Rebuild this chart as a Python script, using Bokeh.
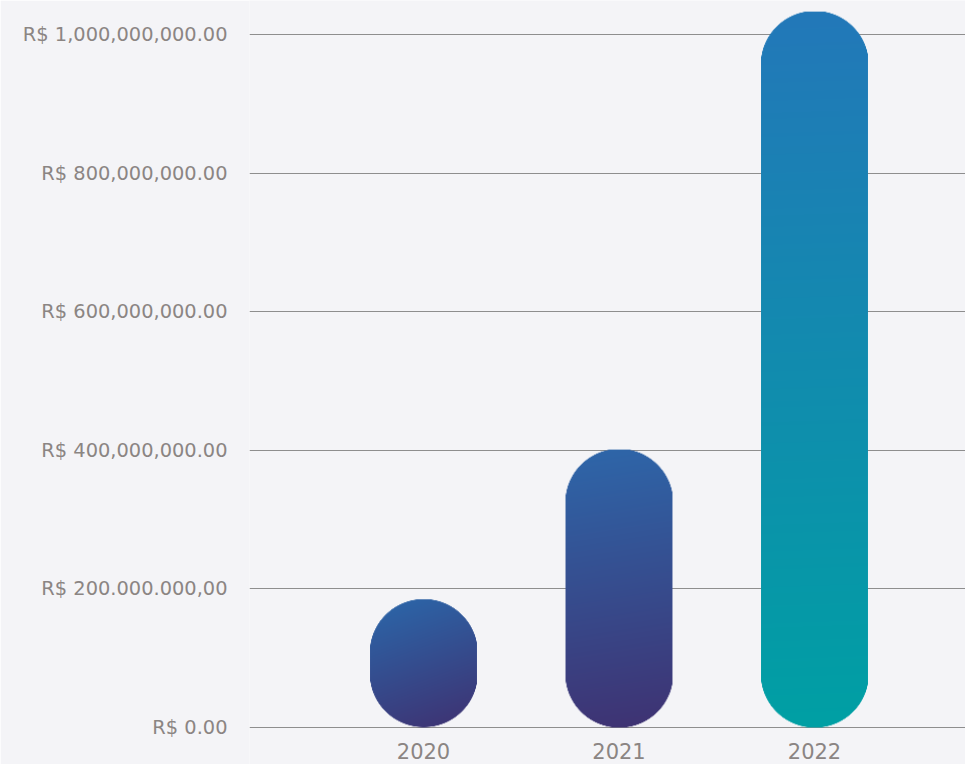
import numpy as np
from bokeh.plotting import figure
from bokeh.models import Range1d, FixedTicker
from bokeh.core.properties import value
from bokeh.embed import file_html
from bokeh.resources import INLINE

# ---- data ----
years = ["2020", "2021", "2022"]
year_pos = [1, 2, 3]
values = [185_000_000, 401_000_000, 1_033_000_000]
y_ticks = [0, 200_000_000, 400_000_000, 600_000_000, 800_000_000, 1_000_000_000]
y_tick_labels = ["R$ 0.00", "R$ 200.000.000,00", "R$ 400,000,000.00",
                 "R$ 600,000,000.00", "R$ 800,000,000.00", "R$ 1,000,000,000.00"]
top_colors = ["#2b68ab", "#2e67aa", "#2378b9"]
bottom_colors = ["#3f3171", "#3f3272", "#00a0a4"]
tilt_deg = [20, 9, 2]

# ---- layout ----
W, H = 965, 764
left_border = 249
frame_w = W - left_border
frame_h = H
zero_px_from_bottom = 37          # zero line sits 37px above the bottom edge
px_per_unit = 693.0 / 1e9
px_per_cat = 195.5
x_start = 0.11
x_end = x_start + frame_w / px_per_cat
y_start = -zero_px_from_bottom / px_per_unit
y_end = y_start + frame_h / px_per_unit
bar_w = 0.547

BG = "#f4f4f7"
TXT = "#8b8583"
FONT = "DejaVu Sans"

p = figure(width=W, height=H, x_range=Range1d(x_start, x_end), y_range=Range1d(y_start, y_end),
           output_backend="svg", toolbar_location=None,
           min_border_left=left_border, min_border_right=0, min_border_top=0,
           min_border_bottom=0)
p.background_fill_color = BG
p.border_fill_color = BG
p.outline_line_color = None

p.xaxis.visible = False

ya = p.yaxis[0]
ya.ticker = FixedTicker(ticks=y_ticks)
ya.major_label_overrides = {t: l for t, l in zip(y_ticks, y_tick_labels)}
ya.axis_line_color = None
ya.major_tick_line_color = None
ya.minor_tick_line_color = None
ya.major_tick_out = 0
ya.major_label_standoff = 22
ya.major_label_text_font = FONT
ya.major_label_text_font_size = "19.4px"
ya.major_label_text_color = TXT

p.xgrid.grid_line_color = None
p.ygrid.ticker = FixedTicker(ticks=y_ticks)
p.ygrid.grid_line_color = "#8e8e8e"
p.ygrid.grid_line_width = 1

# category labels under the bars
p.text(x=year_pos, y=[0] * len(years), text=years, y_offset=15,
       text_align="center", text_baseline="top",
       text_font=value(FONT), text_font_size="21px", text_color=TXT)


def hex2rgb(h):
    h = h.lstrip("#")
    return np.array([int(h[i:i + 2], 16) for i in (0, 2, 4)], dtype=float)


sx = frame_w / (x_end - x_start)
sy = px_per_unit
for pos, v, c0, c1, tdeg in zip(year_pos, values, top_colors, bottom_colors, tilt_deg):
    tilt = np.tan(np.radians(tdeg))
    nx = int(round(bar_w * sx)) * 2
    ny = int(round(v * sy)) * 2
    xs = (np.arange(nx) + 0.5)[None, :]
    ys = (np.arange(ny) + 0.5)[:, None]  # from top
    r = nx / 2.0
    cy = np.clip(ys, r, ny - r)
    d = np.sqrt((xs - r) ** 2 + (ys - cy) ** 2) - r
    alpha = np.clip(0.5 - d, 0, 1)
    t = (ys + tilt * (xs - r)) / ny
    t = (t - t.min()) / (t.max() - t.min())
    a, b = hex2rgb(c0), hex2rgb(c1)
    rgb = a[None, None, :] * (1 - t[..., None]) + b[None, None, :] * t[..., None]
    img = np.empty((ny, nx), dtype=np.uint32)
    view = img.view(dtype=np.uint8).reshape((ny, nx, 4))
    view[..., 0] = rgb[..., 0].astype(np.uint8)
    view[..., 1] = rgb[..., 1].astype(np.uint8)
    view[..., 2] = rgb[..., 2].astype(np.uint8)
    view[..., 3] = (alpha * 255).astype(np.uint8)
    p.image_rgba(image=[img[::-1]], x=pos - bar_w / 2, y=0, dw=bar_w, dh=v)

open("out.html", "w").write(file_html(p, INLINE))
